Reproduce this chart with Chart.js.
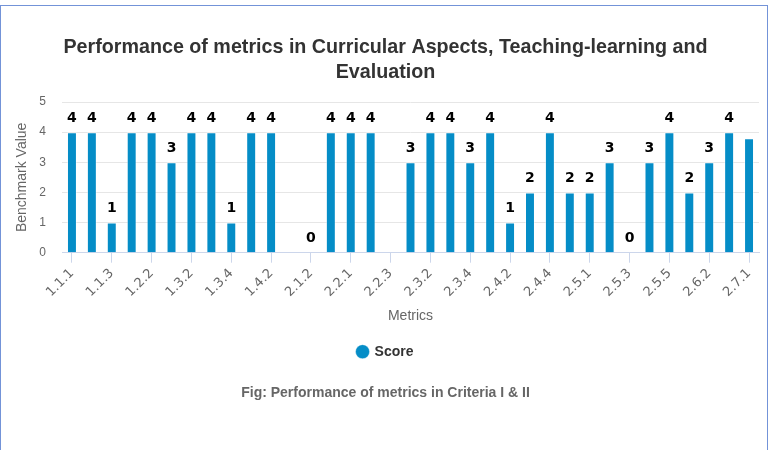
<!DOCTYPE html>
<html>
<head>
<meta charset="utf-8">
<script src="https://cdn.jsdelivr.net/npm/chart.js@4.4.1/dist/chart.umd.min.js"></script>
<style>
  html, body { margin: 0; padding: 0; background: #fff; }
  #frame {
    position: absolute; left: 0; top: 5px;
    width: 766px; height: 500px;
    border: 1.5px solid #7393d8; border-bottom: none;
  }
  #wrap { position: absolute; left: 0; top: 0; width: 771px; height: 450px; }
</style>
</head>
<body>
<div id="frame"></div>
<div id="wrap"><canvas id="myChart" width="771" height="450"></canvas></div>
<script>
// metric codes on the x axis
const metrics = [
    '1.1.1', '1.1.2', '1.1.3', '1.2.1', '1.2.2', '1.3.1', '1.3.2', '1.3.3', '1.3.4',
    '1.4.1', '1.4.2', '2.1.1', '2.1.2', '2.1.3', '2.2.1', '2.2.2', '2.2.3', '2.3.1',
    '2.3.2', '2.3.3', '2.3.4', '2.4.1', '2.4.2', '2.4.3', '2.4.4', '2.4.5', '2.5.1',
    '2.5.2', '2.5.3', '2.5.4', '2.5.5', '2.6.1', '2.6.2', '2.6.3', '2.7.1'
];
// score per metric (null = no value)
const scores = [
    4, 4, 1, 4, 4, 3, 4, 4, 1,
    4, 4, null, 0, 4, 4, 4, null, 3,
    4, 4, 3, 4, 1, 2, 4, 2, 2,
    3, 0, 3, 4, 2, 3, 4, 3.8
];
const yTicks = [0, 1, 2, 3, 4, 5];

const chartTitle = ['Performance of metrics in Curricular Aspects, Teaching-learning and', 'Evaluation'];
const caption = 'Fig: Performance of metrics in Criteria I & II';

// draws the value above each bar, hidden if it would stick out of the plot
const valueLabels = {
    id: 'valueLabels',
    afterDatasetsDraw(chart) {
        const ctx = chart.ctx;
        const area = chart.chartArea;
        const meta = chart.getDatasetMeta(0);
        ctx.save();
        ctx.font = 'bold 14px "DejaVu Sans"';
        ctx.fillStyle = '#000';
        ctx.textAlign = 'center';
        ctx.textBaseline = 'middle';
        meta.data.forEach((bar, i) => {
            const v = scores[i];
            if (v === null || v === undefined) return;
            const txt = String(v);
            const w = ctx.measureText(txt).width;
            if (bar.x + w / 2 > area.right) return;
            ctx.fillText(txt, bar.x, bar.y - 14);
        });
        ctx.restore();
    }
};

const ctx = document.getElementById('myChart').getContext('2d');
const chart = new Chart(ctx, {
    type: 'bar',
    data: {
        labels: metrics,
        datasets: [{
            label: 'Score',
            data: scores,
            backgroundColor: '#058dc7',
            borderColor: 'rgba(255,255,255,0.45)',
            borderWidth: 1,
            barPercentage: 0.5,
            categoryPercentage: 1,
            pointStyle: 'circle'
        }]
    },
    options: {
        responsive: false,
        animation: false,
        layout: { padding: { top: 0, right: 0, bottom: 48, left: 0 } },
        plugins: {
            title: {
                display: true,
                text: chartTitle,
                color: '#333333',
                font: { family: '"Liberation Sans", Arial', size: 19.7, weight: 'bold', lineHeight: 1.27 },
                padding: { top: 35.5, bottom: 16.5 }
            },
            subtitle: {
                display: true,
                position: 'bottom',
                text: caption,
                color: '#666666',
                font: { family: '"Liberation Sans", Arial', size: 14, weight: 'bold' },
                padding: { top: 16.5, bottom: 0 }
            },
            legend: {
                position: 'bottom',
                labels: {
                    usePointStyle: true,
                    boxWidth: 10,
                    boxHeight: 10,
                    padding: 22,
                    color: '#333333',
                    font: { family: '"Liberation Sans", Arial', size: 14, weight: 'bold' }
                }
            },
            tooltip: { enabled: false }
        },
        scales: {
            x: {
                grid: {
                    display: true,
                    drawOnChartArea: false,
                    drawTicks: true,
                    tickLength: 10,
                    offset: false,
                    color: '#ccd6eb'
                },
                border: { display: true, color: '#ccd6eb' },
                ticks: {
                    autoSkip: false,
                    minRotation: 45,
                    maxRotation: 45,
                    color: '#666666',
                    font: { family: '"DejaVu Sans"', size: 13 },
                    callback: function (val, i) {
                        return i % 2 === 0 ? this.getLabelForValue(val) : null;
                    }
                },
                title: {
                    display: true,
                    text: 'Metrics',
                    color: '#666666',
                    font: { family: '"Liberation Sans", Arial', size: 14 },
                    padding: { top: 4, bottom: -2 }
                },
                afterFit: (s) => { s.height = 70; }
            },
            y: {
                min: 0,
                max: 5,
                afterBuildTicks: (s) => { s.ticks = yTicks.map(v => ({ value: v })); },
                grid: { color: '#e6e6e6', drawTicks: false },
                border: { display: false },
                ticks: {
                    padding: 16,
                    color: '#666666',
                    font: { family: '"Liberation Sans", Arial', size: 12 }
                },
                title: {
                    display: true,
                    text: 'Benchmark Value',
                    color: '#666666',
                    font: { family: '"Liberation Sans", Arial', size: 14 },
                    padding: { top: 13.5, bottom: 0 }
                },
                afterFit: (s) => { s.width = 62; }
            },
            // empty strip that keeps the plot 12px off the right edge
            spacer: {
                type: 'linear',
                position: 'right',
                display: true,
                grid: { display: false, drawTicks: false },
                border: { display: false },
                ticks: { display: false },
                afterFit: (s) => { s.width = 12; }
            }
        }
    },
    plugins: [valueLabels]
});
</script>
</body>
</html>
